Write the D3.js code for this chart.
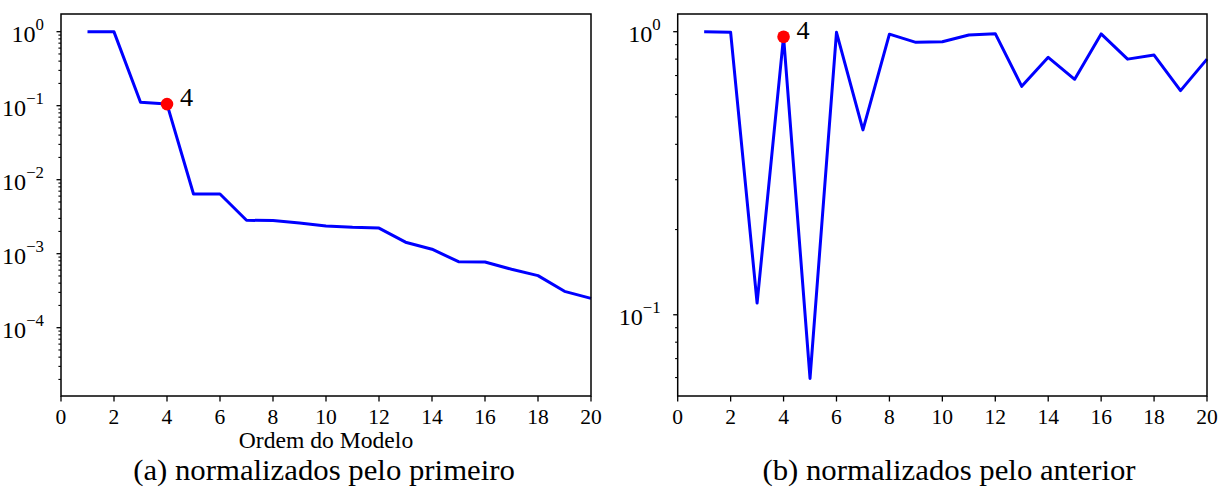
<!DOCTYPE html>
<html>
<head>
<meta charset="utf-8">
<script src="https://cdn.jsdelivr.net/npm/d3@7"></script>
<style>
  body { margin: 0; background: #fff; }
  text { font-family: "Liberation Serif", "Times New Roman", serif; fill: #000; }
</style>
</head>
<body>
<svg id="chart" width="1222" height="488"></svg>
<script>
// model orders on the x axis
const modelOrder = [1, 2, 3, 4, 5, 6, 7, 8, 9, 10, 11, 12, 13, 14, 15, 16, 17, 18, 19, 20];
// (a) values normalised by the first one
const normFirst = [1.0, 0.995, 0.111, 0.105, 0.0064, 0.0064, 0.00283, 0.0028, 0.0026, 0.00237,
                   0.00227, 0.00222, 0.00143, 0.00115, 0.00078, 0.000773, 0.000616, 0.000505, 0.00031, 0.000249];
// (b) values normalised by the previous one
const normPrev = [1.0, 0.995, 0.110, 0.96, 0.0596, 0.995, 0.45, 0.98, 0.917, 0.922,
                  0.973, 0.984, 0.641, 0.812, 0.679, 0.982, 0.80, 0.827, 0.619, 0.80];
const chosenOrder = 4;
const xTicks = [0, 2, 4, 6, 8, 10, 12, 14, 16, 18, 20];
const yExpA = [0, -1, -2, -3, -4];
const yExpB = [0, -1];
const xLabel = "Ordem do Modelo";
const captionA = "(a) normalizados pelo primeiro";
const captionB = "(b) normalizados pelo anterior";

const SX = 1.05; // text in the figure is a touch wider than plain Times
const svg = d3.select("#chart");

function stretchedText(parent, x, y, str, size, anchor) {
  return parent.append("g")
      .attr("transform", `translate(${x},${y}) scale(${SX},1)`)
    .append("text")
      .attr("text-anchor", anchor)
      .style("font-size", size + "px")
      .text(str);
}

function drawPanel(cfg) {
  const x = d3.scaleLinear().domain([0, 20]).range([cfg.left, cfg.right]);
  const y = d3.scaleLog().domain(cfg.yDomain).range([cfg.bottom, cfg.top]);
  const g = svg.append("g");

  // minor y ticks: every 1..9 multiple that is not a power of ten
  const minor = y.ticks().filter(v => Math.abs(Math.log10(v) - Math.round(Math.log10(v))) > 1e-6);
  g.selectAll(".minor").data(minor).enter().append("line")
      .attr("x1", cfg.left - 2.6).attr("x2", cfg.left)
      .attr("y1", d => y(d)).attr("y2", d => y(d))
      .attr("stroke", "#000").attr("stroke-width", 1.1);

  // major y ticks + labels 10^n
  g.selectAll(".major").data(cfg.yExp).enter().append("line")
      .attr("x1", cfg.left - 4.5).attr("x2", cfg.left)
      .attr("y1", d => y(Math.pow(10, d))).attr("y2", d => y(Math.pow(10, d)))
      .attr("stroke", "#000").attr("stroke-width", 1.3);

  cfg.yExp.forEach(e => {
    const ty = y(Math.pow(10, e));
    const t = svg.append("g")
        .attr("transform", `translate(${cfg.left - 17},${ty + 10.5}) scale(${SX},1)`)
      .append("text").attr("text-anchor", "end").style("font-size", "23px");
    t.append("tspan").text("10");
    t.append("tspan").attr("dy", -12).style("font-size", "16px")
        .text(e < 0 ? "\u2212" + Math.abs(e) : String(e));
  });

  // x ticks + labels
  g.selectAll(".xt").data(xTicks).enter().append("line")
      .attr("x1", d => x(d)).attr("x2", d => x(d))
      .attr("y1", cfg.bottom).attr("y2", cfg.bottom + 5.5)
      .attr("stroke", "#000").attr("stroke-width", 1.3);
  xTicks.forEach(v => stretchedText(svg, x(v), cfg.bottom + 28, String(v), 20.5, "middle"));

  // data line
  const line = d3.line().x((d, i) => x(modelOrder[i])).y(d => y(d));
  g.append("path").datum(cfg.values)
      .attr("d", line)
      .attr("fill", "none")
      .attr("stroke", "#0000ff")
      .attr("stroke-width", 3)
      .attr("stroke-linejoin", "round");

  // chosen order marker
  const idx = modelOrder.indexOf(chosenOrder);
  const cx = x(chosenOrder), cy = y(cfg.values[idx]);
  g.append("circle").attr("cx", cx).attr("cy", cy).attr("r", 6.3).attr("fill", "#ff0000");
  stretchedText(svg, cx + 13, cy + 2, String(chosenOrder), 25, "start");

  // frame
  g.append("rect")
      .attr("x", cfg.left).attr("y", cfg.top)
      .attr("width", cfg.right - cfg.left).attr("height", cfg.bottom - cfg.top)
      .attr("fill", "none").attr("stroke", "#000").attr("stroke-width", 1.5);

  if (cfg.xLabel) stretchedText(svg, (cfg.left + cfg.right) / 2, 448, cfg.xLabel, 22.5, "middle");
  stretchedText(svg, cfg.captionX, 480, cfg.caption, 29.3, "middle");
}

drawPanel({
  left: 61, right: 591, top: 14, bottom: 396,
  yDomain: [Math.pow(10, -4.923), Math.pow(10, 0.239)],
  yExp: yExpA, values: normFirst,
  xLabel: xLabel, caption: captionA, captionX: 324
});

drawPanel({
  left: 677.7, right: 1207, top: 14, bottom: 396,
  yDomain: [Math.pow(10, -1.287), Math.pow(10, 0.0625)],
  yExp: yExpB, values: normPrev,
  xLabel: null, caption: captionB, captionX: 949
});
</script>
</body>
</html>
